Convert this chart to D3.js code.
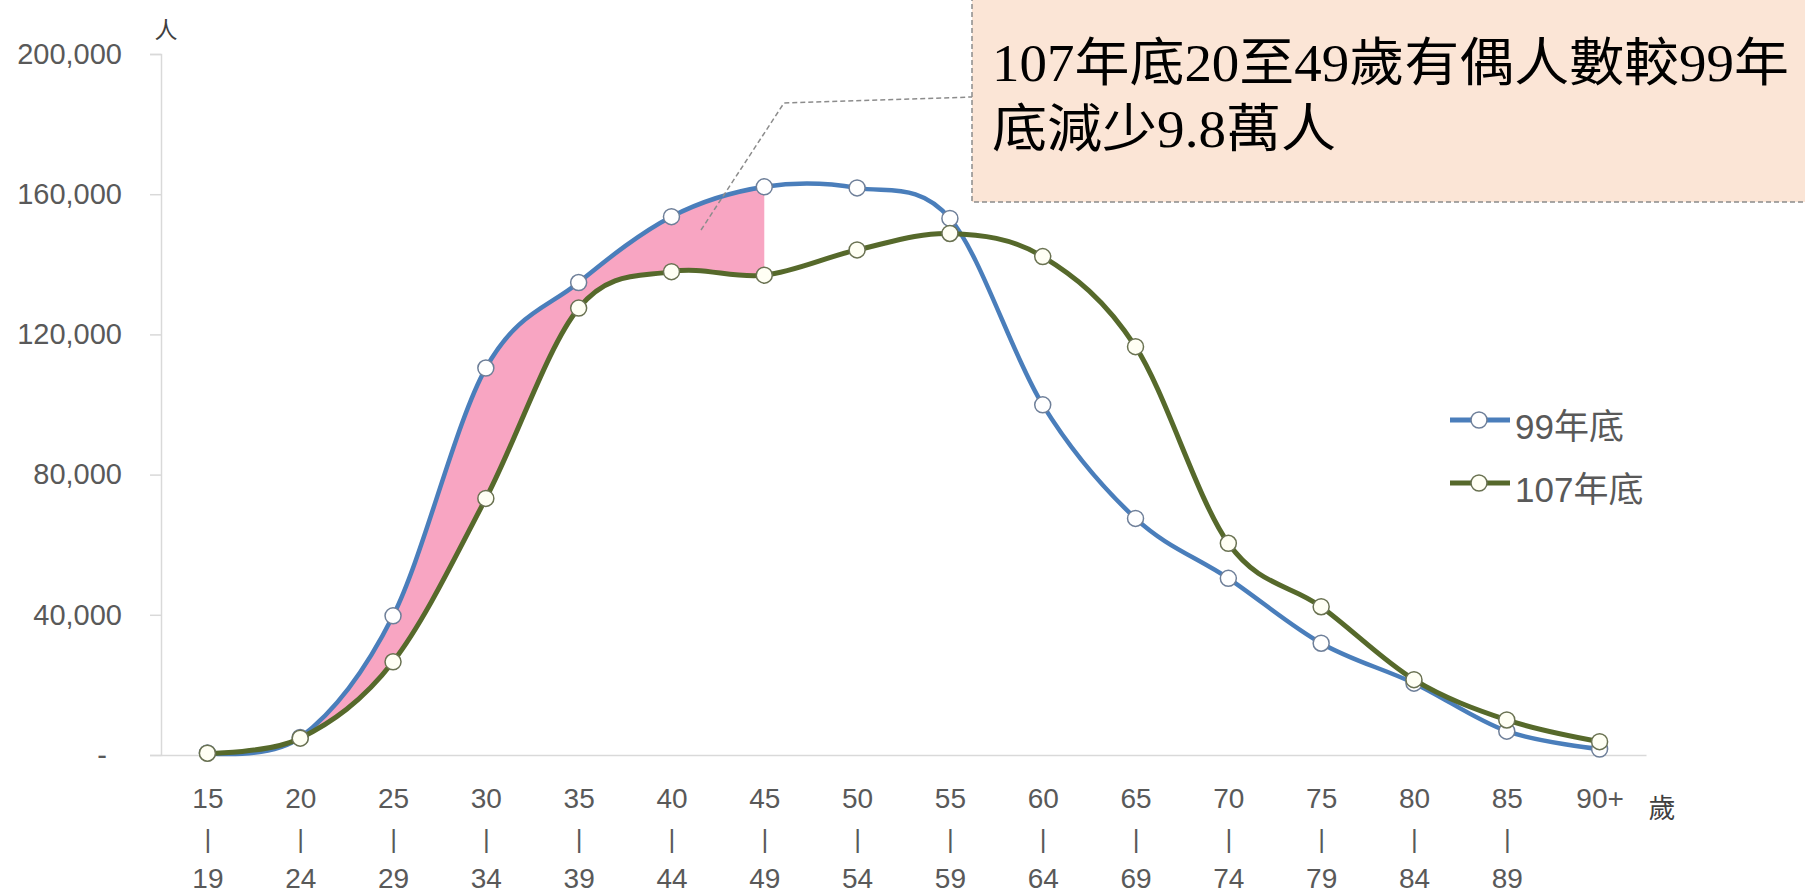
<!DOCTYPE html>
<html>
<head>
<meta charset="utf-8">
<script src="https://d3js.org/d3.v7.min.js"></script>
<style>
  html, body { margin: 0; padding: 0; background: #fff; }
  svg { display: block; }
</style>
</head>
<body>
<div id="chart"></div>
<script>
// age groups (top / bottom line of each tick label)
const ageFrom = ["15", "20", "25", "30", "35", "40", "45", "50", "55", "60", "65", "70", "75", "80", "85", "90+"];
const ageTo   = ["19", "24", "29", "34", "39", "44", "49", "54", "59", "64", "69", "74", "79", "84", "89", ""];

// married persons, end of year 99 and year 107
const married99  = [600, 5000, 39700, 110400, 134800, 153600, 162100, 161800, 153100, 99900, 67500, 50400, 31900, 20500, 6800, 1700];
const married107 = [500, 4800, 26600, 73200, 127500, 137900, 136900, 144100, 148800, 142200, 116500, 60400, 42300, 21500, 10000, 3800];

const yTicks = [0, 40000, 80000, 120000, 160000, 200000];
const seriesNames = ["99年底", "107年底"];
const noteLines = ["107年底20至49歲有偶人數較99年", "底減少9.8萬人"];

const W = 1805, H = 893;
const blue = "#4A7EBB", green = "#56692B";
const labelFont = "'Liberation Sans', 'Noto Sans CJK TC', sans-serif";

const svg = d3.select("#chart").append("svg")
    .attr("width", W)
    .attr("height", H);

const x = d3.scalePoint()
    .domain(ageFrom)
    .range([161, 1646])
    .padding(0.5);

const y = d3.scaleLinear()
    .domain([0, 200000])
    .range([755, 54]);

// y axis
const yAxis = svg.append("g")
    .attr("transform", "translate(161,0)")
    .call(d3.axisLeft(y)
        .tickValues(yTicks)
        .tickSize(11)
        .tickPadding(28)
        .tickFormat(d => d === 0 ? "-" : d3.format(",")(d)));
yAxis.select(".domain").attr("stroke", "#D9D9D9").attr("stroke-width", 1.5);
yAxis.selectAll(".tick line").attr("stroke", "#D9D9D9").attr("stroke-width", 1.5);
yAxis.selectAll(".tick text")
    .attr("fill", "#595959")
    .style("font-family", labelFont)
    .style("font-size", "29px")
    .attr("x", d => d === 0 ? -54 : -39);

// x axis
const xAxis = svg.append("g")
    .attr("transform", "translate(0,755)")
    .call(d3.axisBottom(x).tickSize(0).tickSizeOuter(0).tickFormat(""));
xAxis.select(".domain").attr("stroke", "#D9D9D9").attr("stroke-width", 1.5);
xAxis.selectAll(".tick").each(function(d, i) {
    const g = d3.select(this);
    const rows = [[ageFrom[i], 53], [ageTo[i] ? "|" : "", 93], [ageTo[i], 133]];
    rows.forEach(([t, dy]) => {
        if (!t) return;
        g.append("text")
            .attr("y", dy)
            .attr("text-anchor", "middle")
            .attr("fill", "#595959")
            .style("font-family", labelFont)
            .style("font-size", t === "|" ? "26px" : "28px")
            .text(t);
    });
});

// axis units
svg.append("text")
    .attr("x", 166).attr("y", 38)
    .attr("text-anchor", "middle")
    .attr("fill", "#404040")
    .style("font-family", "'Noto Sans CJK TC', sans-serif")
    .style("font-size", "23px")
    .text("人");
svg.append("text")
    .attr("x", 1662).attr("y", 818)
    .attr("text-anchor", "middle")
    .attr("fill", "#404040")
    .style("font-family", "'Noto Sans CJK TC', sans-serif")
    .style("font-size", "27px")
    .text("歲");

const curve = d3.curveCatmullRom.alpha(0);

// shaded gap between the two curves, ages 20-49
svg.append("clipPath").attr("id", "gap-clip")
    .append("rect")
    .attr("x", x("20")).attr("y", 0)
    .attr("width", x("45") - x("20")).attr("height", H);

svg.append("path")
    .datum(ageFrom.map((a, i) => ({ a, hi: married99[i], lo: married107[i] })))
    .attr("clip-path", "url(#gap-clip)")
    .attr("fill", "#F8A5C2")
    .attr("d", d3.area()
        .x(d => x(d.a))
        .y0(d => y(d.lo))
        .y1(d => y(d.hi))
        .curve(curve));

const line = d3.line().x(d => x(d.a)).y(d => y(d.v)).curve(curve);

const series = [
    { name: seriesNames[0], values: married99, color: blue, width: 4.5, mark: "#6E7F99", fill: "#FFFFFF" },
    { name: seriesNames[1], values: married107, color: green, width: 5, mark: "#6A7252", fill: "#FFFFF4" }
];

series.forEach(s => {
    const pts = ageFrom.map((a, i) => ({ a, v: s.values[i] }));
    svg.append("path")
        .datum(pts)
        .attr("fill", "none")
        .attr("stroke", s.color)
        .attr("stroke-width", s.width)
        .attr("d", line);
    svg.append("g").selectAll("circle")
        .data(pts)
        .join("circle")
        .attr("cx", d => x(d.a))
        .attr("cy", d => y(d.v))
        .attr("r", 8)
        .attr("fill", s.fill)
        .attr("stroke", s.mark)
        .attr("stroke-width", 1.5);
});

// legend
const legend = svg.append("g");
series.forEach((s, i) => {
    const ly = 420 + i * 63;
    legend.append("line")
        .attr("x1", 1450).attr("x2", 1510)
        .attr("y1", ly).attr("y2", ly)
        .attr("stroke", s.color).attr("stroke-width", 5);
    legend.append("circle")
        .attr("cx", 1479).attr("cy", ly).attr("r", 8)
        .attr("fill", s.fill).attr("stroke", s.mark).attr("stroke-width", 1.5);
    legend.append("text")
        .attr("x", 1515).attr("y", ly + 8)
        .attr("dy", "0.3em")
        .attr("fill", "#595959")
        .style("font-family", labelFont)
        .style("font-size", "35px")
        .text(s.name);
});

// callout
svg.append("path")
    .attr("d", "M701,230 L784,103 L972,97")
    .attr("fill", "none")
    .attr("stroke", "#8C8C8C")
    .attr("stroke-width", 1.5)
    .attr("stroke-dasharray", "5,3");
svg.append("rect")
    .attr("x", 972).attr("y", -5)
    .attr("width", 860).attr("height", 207)
    .attr("fill", "#FBE5D6")
    .attr("stroke", "#8C8C8C")
    .attr("stroke-width", 1.5)
    .attr("stroke-dasharray", "5,3");
const noteWidth = [797, 344];
const noteBase = [81, 147];
noteLines.forEach((t, i) => {
    svg.append("text")
        .attr("x", 992).attr("y", noteBase[i])
        .attr("textLength", noteWidth[i])
        .attr("lengthAdjust", "spacingAndGlyphs")
        .attr("fill", "#000")
        .style("font-family", "'Liberation Serif', 'Noto Sans CJK TC', serif")
        .style("font-size", "52px")
        .text(t);
});
</script>
</body>
</html>
